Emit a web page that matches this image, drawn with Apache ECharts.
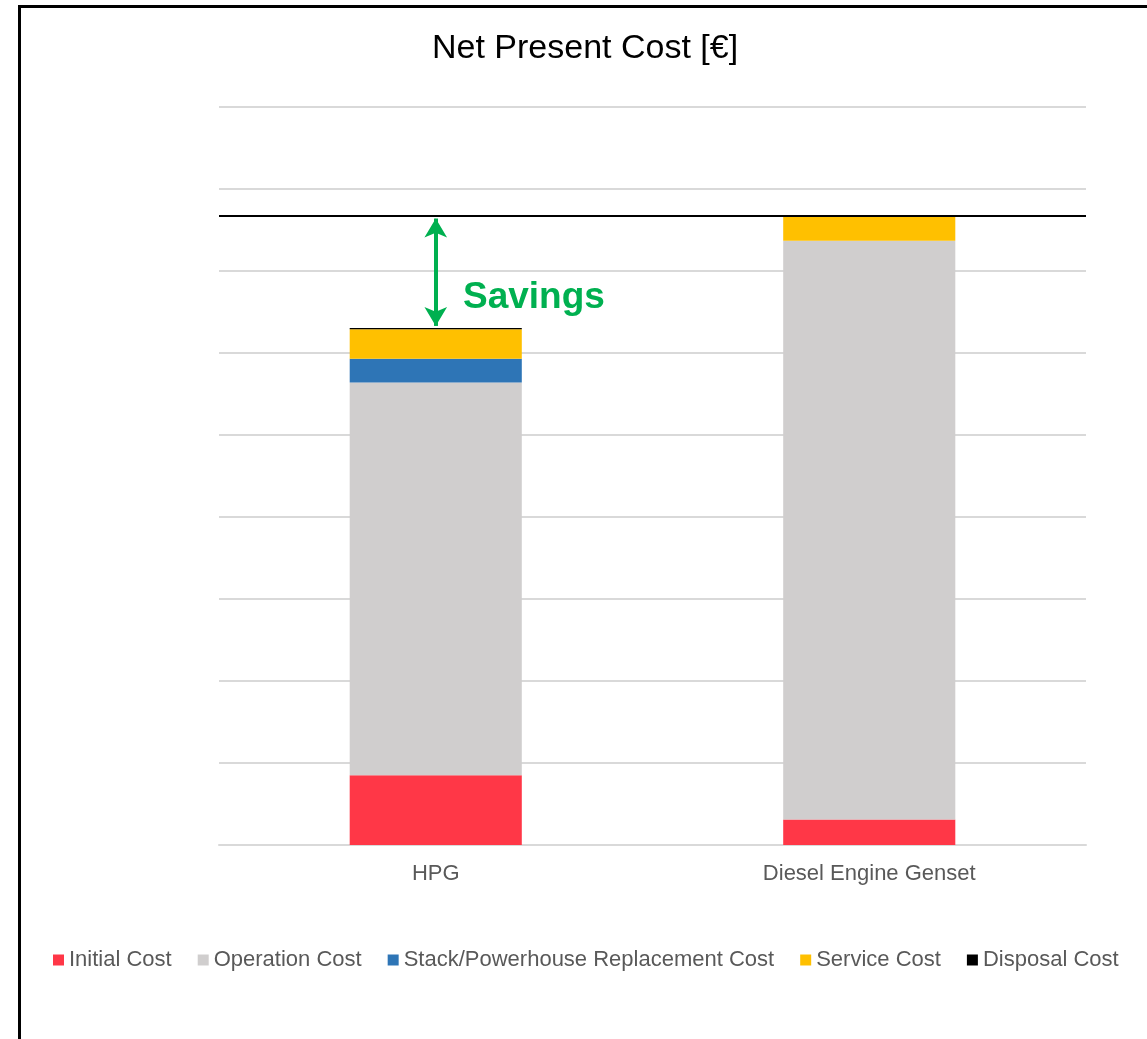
<!DOCTYPE html>
<html>
<head>
<meta charset="utf-8">
<script src="https://cdn.jsdelivr.net/npm/echarts@6/dist/echarts.min.js"></script>
<style>
  html, body { margin: 0; padding: 0; background: #fff; overflow: hidden; }
  .frame { position: absolute; left: 18px; top: 5px; width: 1200px; height: 1100px; border: 3px solid #000; }
  #chart { position: absolute; left: 0; top: 0; width: 1147px; height: 1039px; }
</style>
</head>
<body>
<div class="frame"></div>
<div id="chart"></div>
<script>
// data (one grid step = 10 units, no axis labels shown)
var categories = ['HPG', 'Diesel Engine Genset'];
var initialCost = [8.5, 3.1];
var operationCost = [47.9, 70.6];
var replacementCost = [2.9, 0];
var serviceCost = [3.6, 2.9];
var disposalCost = [0.15, 0.15];

var seriesNames = ['Initial Cost', 'Operation Cost', 'Stack/Powerhouse Replacement Cost', 'Service Cost', 'Disposal Cost'];
var seriesColors = ['#FF3747', '#D0CECE', '#2E75B6', '#FFC000', '#000000'];
var seriesData = [initialCost, operationCost, replacementCost, serviceCost, disposalCost];

var totals = categories.map(function (c, i) {
  return seriesData.reduce(function (s, d) { return s + d[i]; }, 0);
});
var fontFam = '"Liberation Sans", Arial, sans-serif';

var chart = echarts.init(document.getElementById('chart'));

var series = seriesNames.map(function (name, k) {
  return {
    name: name,
    type: 'bar',
    stack: 'npc',
    barWidth: '39.7%',
    itemStyle: { color: seriesColors[k] },
    data: seriesData[k]
  };
});

// reference line at the diesel total and the savings arrow
series[4].markLine = {
  silent: true,
  animation: false,
  label: { show: false },
  data: [
    {
      yAxis: totals[1],
      symbol: 'none',
      lineStyle: { color: '#000', width: 2, type: 'solid' }
    },
    [
      { coord: [categories[0], totals[1] - 0.35], symbol: 'arrow', symbolSize: [17, 19] },
      { coord: [categories[0], totals[0] + 0.25], symbol: 'arrow', symbolSize: [17, 19] }
    ]
  ],
  lineStyle: { color: '#00B050', width: 4, type: 'solid' },
  symbol: 'none'
};

var option = {
  backgroundColor: 'transparent',
  animation: false,
  title: {
    text: 'Net Present Cost [€]',
    left: 427,
    top: 27,
    textStyle: { fontFamily: fontFam, fontSize: 34, fontWeight: 'normal', color: '#000' }
  },
  grid: { left: 219, right: 61, top: 107, bottom: 194 },
  legend: {
    left: 48,
    top: 944,
    itemWidth: 11,
    itemHeight: 11,
    itemGap: 26,
    icon: 'rect',
    textStyle: { fontFamily: fontFam, fontSize: 22, color: '#595959' },
    data: seriesNames
  },
  xAxis: {
    type: 'category',
    data: categories,
    axisLine: { lineStyle: { color: '#D9D9D9', width: 2 } },
    axisTick: { show: false },
    axisLabel: { fontFamily: fontFam, fontSize: 22, color: '#595959', margin: 18 }
  },
  yAxis: {
    type: 'value',
    min: 0,
    max: 90,
    interval: 10,
    axisLabel: { show: false },
    axisLine: { show: false },
    axisTick: { show: false },
    splitLine: { lineStyle: { color: '#D9D9D9', width: 2 } }
  },
  graphic: [
    {
      type: 'text',
      left: 463,
      top: 279,
      style: { text: 'Savings', fill: '#00B050', font: 'bold 37px ' + fontFam }
    }
  ],
  series: series
};

chart.setOption(option);
</script>
</body>
</html>
